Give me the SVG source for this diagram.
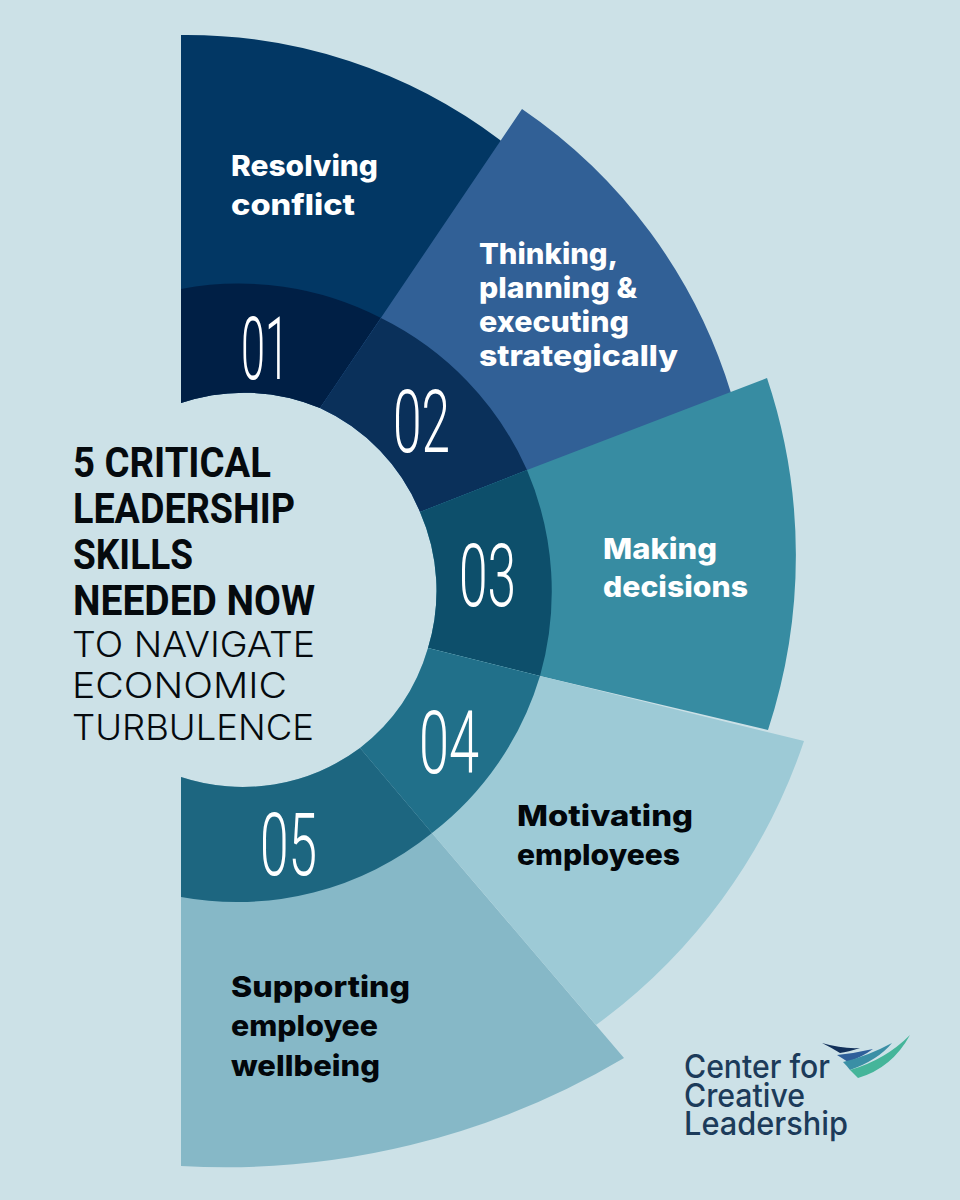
<svg xmlns="http://www.w3.org/2000/svg" width="960" height="1200" viewBox="0 0 960 1200">
<style>
.h{font-family:"Roboto","Liberation Sans",sans-serif;font-size:42px;font-weight:700;fill:#050a0e}
.l{font-family:"Inter","Liberation Sans",sans-serif;font-size:35px;font-weight:300;fill:#050a0e}
.n{font-family:"Roboto","Liberation Sans",sans-serif;font-size:87px;font-weight:300;fill:#fff}
.t{font-family:"Inter","Liberation Sans",sans-serif;font-size:29px;font-weight:800}
.w{fill:#fff}.k{fill:#02060a}
.c{font-family:"Inter","Noto Sans",sans-serif;font-size:32px;font-weight:500;fill:#1c3b5a}
</style>
<rect width="960" height="1200" fill="#cce1e7"/>
<g id="skill-1">
<path d="M181 35A520 520 0 0 1 500 140L510 150L320 408A196 196 0 0 0 181 403Z" fill="#023764"/>
<path d="M181 289A310 310 0 0 1 381 318L320 408A196 196 0 0 0 181 403Z" fill="#001f45"/>
<text class="n" x="241" y="379" textLength="48" lengthAdjust="spacingAndGlyphs">01</text>
<text class="t w" x="231" y="176" textLength="147" lengthAdjust="spacingAndGlyphs">Resolving</text>
<text class="t w" x="231" y="215" textLength="124" lengthAdjust="spacingAndGlyphs">conflict</text>
</g>
<g id="skill-2">
<path d="M522 109A530 530 0 0 1 731 393L745 400L527 480L420 512A196 196 0 0 0 320 408Z" fill="#316096"/>
<path d="M381 318A310 310 0 0 1 527 470L420 512A196 196 0 0 0 320 408Z" fill="#0a305a"/>
<text class="n" x="393" y="452" textLength="57" lengthAdjust="spacingAndGlyphs">02</text>
<text class="t w" x="479" y="264" textLength="139" lengthAdjust="spacingAndGlyphs">Thinking,</text>
<text class="t w" x="479" y="298" textLength="158" lengthAdjust="spacingAndGlyphs">planning &amp;</text>
<text class="t w" x="479" y="332" textLength="150" lengthAdjust="spacingAndGlyphs">executing</text>
<text class="t w" x="479" y="366" textLength="199" lengthAdjust="spacingAndGlyphs">strategically</text>
</g>
<g id="skill-3">
<path d="M767 378A560 560 0 0 1 768 730L540 676L428 648A196 196 0 0 0 420 512L527 470Z" fill="#378ca2"/>
<path d="M527 470A310 310 0 0 1 540 676L428 648A196 196 0 0 0 420 512Z" fill="#0d4f6b"/>
<text class="n" x="459" y="606" textLength="57" lengthAdjust="spacingAndGlyphs">03</text>
<text class="t w" x="603" y="559" textLength="114" lengthAdjust="spacingAndGlyphs">Making</text>
<text class="t w" x="603" y="597" textLength="145" lengthAdjust="spacingAndGlyphs">decisions</text>
</g>
<g id="skill-5">
<path d="M181 1166A780 780 0 0 0 624 1058L432 833L360 748A196 196 0 0 1 181 777Z" fill="#86b8c7"/>
</g>
<g id="skill-4">
<path d="M804 741A580 580 0 0 1 596 1025L432 833L360 748A196 196 0 0 0 428 648L540 676Z" fill="#9dcad6"/>
<path d="M540 676A310 310 0 0 1 432 833L360 748A196 196 0 0 0 428 648Z" fill="#21708a"/>
<text class="n" x="419" y="773" textLength="60" lengthAdjust="spacingAndGlyphs">04</text>
<text class="t k" x="517" y="826" textLength="176" lengthAdjust="spacingAndGlyphs">Motivating</text>
<text class="t k" x="517" y="865" textLength="163" lengthAdjust="spacingAndGlyphs">employees</text>
</g>
<g id="skill-5-band">
<path d="M432 833A310 310 0 0 1 181 897V777A196 196 0 0 0 360 748Z" fill="#1d6680"/>
<text class="n" x="260" y="875" textLength="57" lengthAdjust="spacingAndGlyphs">05</text>
<text class="t k" x="231" y="997" textLength="179" lengthAdjust="spacingAndGlyphs">Supporting</text>
<text class="t k" x="231" y="1036" textLength="147" lengthAdjust="spacingAndGlyphs">employee</text>
<text class="t k" x="231" y="1076" textLength="149" lengthAdjust="spacingAndGlyphs">wellbeing</text>
</g>
<g id="title">
<text class="h" x="73" y="477" textLength="198" lengthAdjust="spacingAndGlyphs">5 CRITICAL</text>
<text class="h" x="73" y="523" textLength="222" lengthAdjust="spacingAndGlyphs">LEADERSHIP</text>
<text class="h" x="73" y="569" textLength="120" lengthAdjust="spacingAndGlyphs">SKILLS</text>
<text class="h" x="73" y="615" textLength="242" lengthAdjust="spacingAndGlyphs">NEEDED NOW</text>
<text class="l" x="72" y="657" textLength="243" lengthAdjust="spacingAndGlyphs">TO NAVIGATE</text>
<text class="l" x="72" y="698" textLength="215" lengthAdjust="spacingAndGlyphs">ECONOMIC</text>
<text class="l" x="72" y="740" textLength="242" lengthAdjust="spacingAndGlyphs">TURBULENCE</text>
</g>
<g id="logo">
<text class="c" x="684" y="1078" textLength="146" lengthAdjust="spacingAndGlyphs">Center for</text>
<text class="c" x="684" y="1107" textLength="121" lengthAdjust="spacingAndGlyphs">Creative</text>
<text class="c" x="684" y="1135" textLength="164" lengthAdjust="spacingAndGlyphs">Leadership</text>
<path d="M822 1043Q842 1049 860 1048Q848 1052 840 1053Q832 1048 822 1043Z" fill="#12305a"/>
<path d="M837 1055Q856 1053 873 1049Q862 1057 848 1062Q842 1058 837 1055Z" fill="#2f5f9a"/>
<path d="M843 1062Q868 1056 892 1043Q878 1060 850 1070Q847 1066 843 1062Z" fill="#3a8fa5"/>
<path d="M850 1070Q885 1060 910 1035Q892 1068 858 1078Q854 1074 850 1070Z" fill="#45b59a"/>
</g>
</svg>
